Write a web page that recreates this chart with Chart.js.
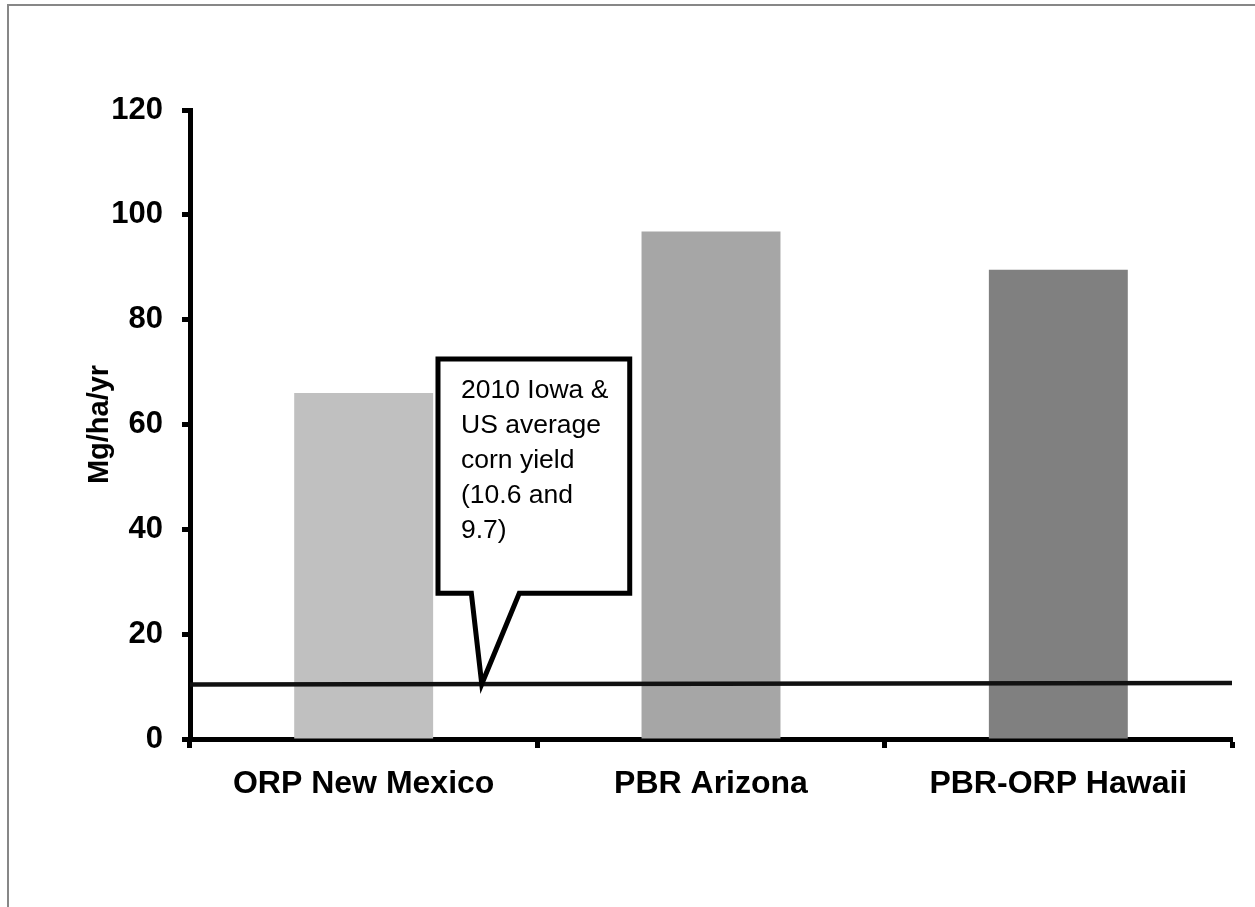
<!DOCTYPE html>
<html>
<head>
<meta charset="utf-8">
<title>Biomass productivity</title>
<script src="https://cdn.jsdelivr.net/npm/chart.js@4.4.1/dist/chart.umd.min.js"></script>
<style>
  html, body { margin: 0; padding: 0; background: #ffffff; }
  #wrap { position: relative; width: 1255px; height: 907px; overflow: hidden; }
  #frame {
    position: absolute; left: 7px; top: 4px; width: 1300px; height: 1000px;
    border-left: 2px solid #878787; border-top: 2px solid #878787;
  }
  #chart { position: absolute; left: 0; top: 0; }
</style>
</head>
<body>
<div id="wrap">
  <div id="frame"></div>
  <canvas id="chart" width="1255" height="907"></canvas>
</div>
<script>
// Annual biomass yield per site (Mg/ha/yr)
const categories = ['ORP New Mexico', 'PBR Arizona', 'PBR-ORP Hawaii'];
const yieldValues = [66, 96.8, 89.5];
const barColors = ['#c0c0c0', '#a6a6a6', '#808080'];

// Reference corn yield line, drawn across the full plot width
const cornLinePos = [0, 1];
const cornLineValues = [10.4, 10.7];

// Y axis ticks
const yTicks = [0, 20, 40, 60, 80, 100, 120];

// Callout text
const calloutLines = ['2010 Iowa &', 'US average', 'corn yield', '(10.6 and', '9.7)'];

const FONT = '"Liberation Sans", Arial, Helvetica, sans-serif';

// Callout box with a pointer to the corn yield line, placed in data units
const calloutPlugin = {
  id: 'callout',
  afterDatasetsDraw(chart) {
    const { ctx, scales } = chart;
    const xs = scales.x2, ys = scales.y;
    const left = xs.getPixelForValue(0.238);
    const right = xs.getPixelForValue(0.422);
    const top = ys.getPixelForValue(72.5);
    const bottom = ys.getPixelForValue(27.8);
    const baseL = xs.getPixelForValue(0.270);
    const baseR = xs.getPixelForValue(0.316);
    const tipPos = 0.28;
    const tipVal = cornLineValues[0] + (cornLineValues[1] - cornLineValues[0]) * tipPos;
    const tipX = xs.getPixelForValue(tipPos);
    const tipY = ys.getPixelForValue(tipVal);

    ctx.save();
    ctx.beginPath();
    ctx.moveTo(left, top);
    ctx.lineTo(right, top);
    ctx.lineTo(right, bottom);
    ctx.lineTo(baseR, bottom);
    ctx.lineTo(tipX, tipY);
    ctx.lineTo(baseL, bottom);
    ctx.lineTo(left, bottom);
    ctx.closePath();
    ctx.fillStyle = '#ffffff';
    ctx.fill();
    ctx.lineWidth = 5;
    ctx.lineJoin = 'miter';
    ctx.strokeStyle = '#000000';
    ctx.stroke();

    ctx.fillStyle = '#000000';
    ctx.font = '26.5px ' + FONT;
    ctx.textAlign = 'left';
    ctx.textBaseline = 'alphabetic';
    calloutLines.forEach((line, i) => {
      ctx.fillText(line, left + 23, top + 39 + i * 35);
    });
    ctx.restore();
  }
};

new Chart(document.getElementById('chart'), {
  type: 'bar',
  data: {
    labels: categories,
    datasets: [
      {
        type: 'bar',
        data: yieldValues,
        backgroundColor: barColors,
        borderWidth: 0,
        grouped: false,
        categoryPercentage: 1.0,
        barPercentage: 0.4,
        order: 2
      },
      {
        type: 'line',
        xAxisID: 'x2',
        data: cornLinePos.map((p, i) => ({ x: p, y: cornLineValues[i] })),
        borderColor: '#111111',
        borderWidth: 4.5,
        pointRadius: 0,
        fill: false,
        order: 1
      }
    ]
  },
  options: {
    responsive: false,
    animation: false,
    devicePixelRatio: 1,
    layout: { padding: { left: 0, top: 110, right: 23, bottom: 0 } },
    plugins: {
      legend: { display: false },
      tooltip: { enabled: false }
    },
    scales: {
      x: {
        type: 'category',
        offset: true,
        grid: {
          offset: true,
          drawOnChartArea: false,
          drawTicks: true,
          tickLength: 9,
          tickWidth: 5,
          tickColor: '#000000'
        },
        border: { display: true, color: '#000000', width: 5 },
        ticks: {
          color: '#000000',
          font: { family: FONT, size: 32, weight: 'bold' },
          padding: 17,
          maxRotation: 0
        },
        afterFit(scale) { scale.height = 168; }
      },
      x2: {
        type: 'linear',
        display: false,
        offset: false,
        min: 0,
        max: 1
      },
      y: {
        type: 'linear',
        min: 0,
        max: 120,
        afterBuildTicks(scale) { scale.ticks = yTicks.map(v => ({ value: v })); },
        grid: {
          drawOnChartArea: false,
          drawTicks: true,
          tickLength: 8,
          tickWidth: 5,
          tickColor: '#000000'
        },
        border: { display: true, color: '#000000', width: 5 },
        ticks: {
          color: '#000000',
          font: { family: FONT, size: 31, weight: 'bold' },
          padding: 19
        },
        title: {
          display: true,
          text: 'Mg/ha/yr',
          color: '#000000',
          font: { family: FONT, size: 29, weight: 'bold' },
          padding: { top: 83, bottom: 0 }
        },
        afterFit(scale) { scale.width = 190; }
      }
    }
  },
  plugins: [calloutPlugin]
});
</script>
</body>
</html>
